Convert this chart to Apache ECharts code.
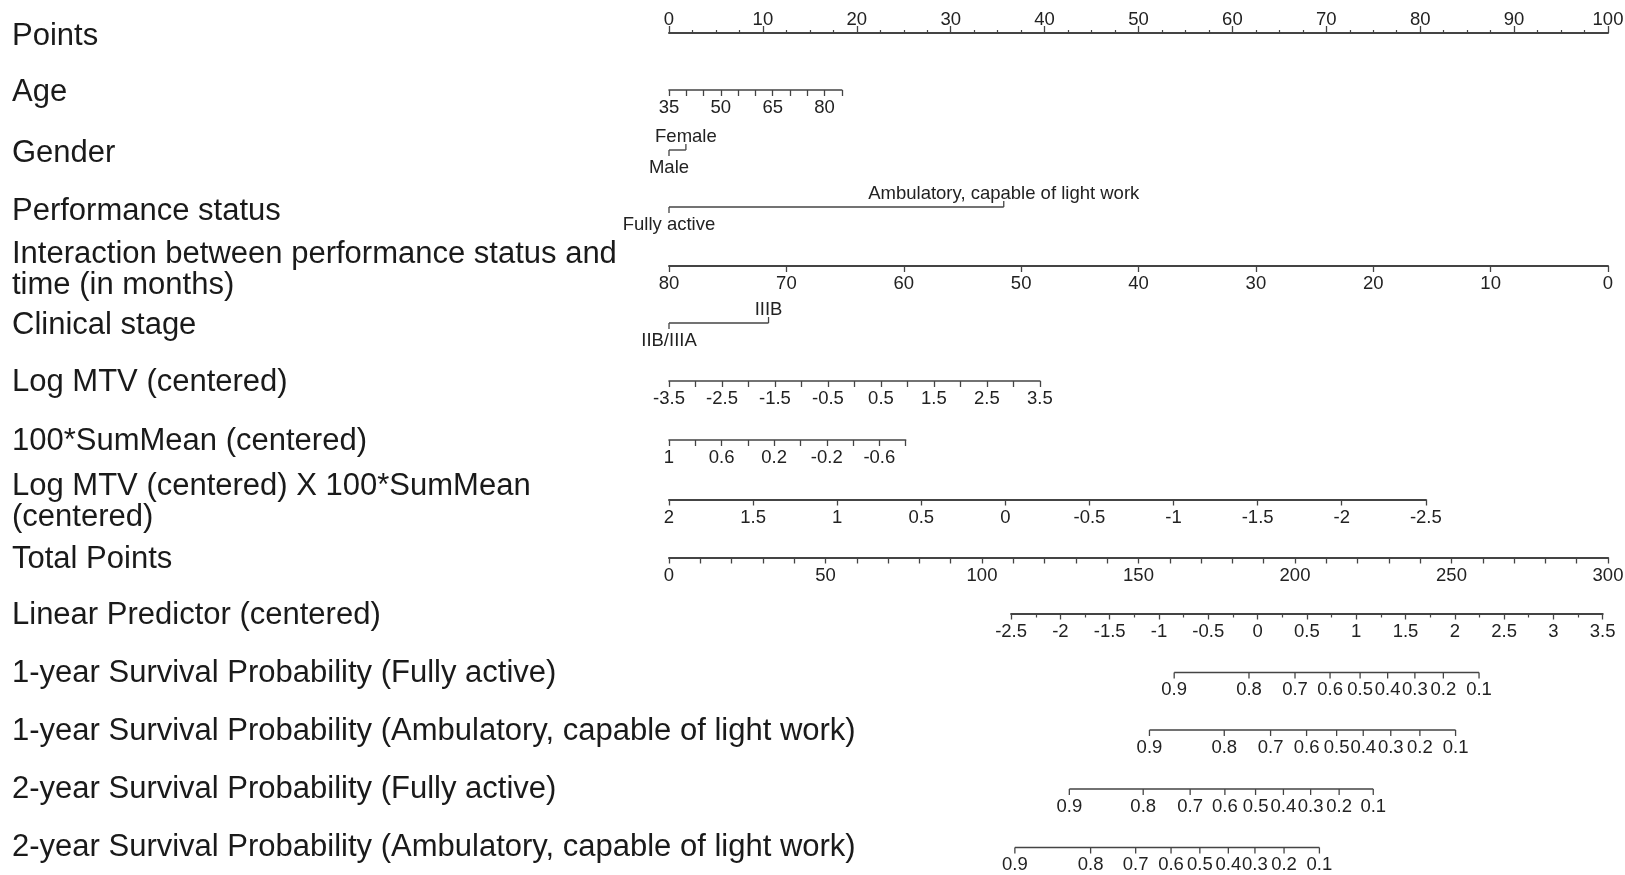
<!DOCTYPE html>
<html>
<head>
<meta charset="utf-8">
<script src="https://cdn.jsdelivr.net/npm/echarts@6/dist/echarts.min.js"></script>
<style>
  html, body { margin: 0; padding: 0; background: #fff; }
  #chart { width: 1625px; height: 875px; }
</style>
</head>
<body>
<div id="chart"></div>
<script>
// ---------------- nomogram data ----------------
const rowTitles = [
  'Points',
  'Age',
  'Gender',
  'Performance status',
  'Interaction between performance status and\ntime (in months)',
  'Clinical stage',
  'Log MTV (centered)',
  '100*SumMean (centered)',
  'Log MTV (centered) X 100*SumMean\n(centered)',
  'Total Points',
  'Linear Predictor (centered)',
  '1-year Survival Probability (Fully active)',
  '1-year Survival Probability (Ambulatory, capable of light work)',
  '2-year Survival Probability (Fully active)',
  '2-year Survival Probability (Ambulatory, capable of light work)'
];

// each predictor: value range (left end, right end) and the points those ends score
const pointsRange  = [0, 100];
const ageRange     = [35, 85];     const agePoints     = [0, 18.4];
const genderLevels = ['Male', 'Female'];                          const genderPoints = [0, 1.8];
const perfLevels   = ['Fully active', 'Ambulatory, capable of light work']; const perfPoints = [0, 35.65];
const psTimeRange  = [80, 0];      const psTimePoints  = [0, 100];
const stageLevels  = ['IIB/IIIA', 'IIIB'];                        const stagePoints  = [0, 10.6];
const logMtvRange  = [-3.5, 3.5];  const logMtvPoints  = [0, 39.5];
const sumMeanRange = [1, -0.8];    const sumMeanPoints = [0, 25.2];
const mtvSumRange  = [2, -2.5];    const mtvSumPoints  = [0, 80.6];
const totalRange   = [0, 300];
const lpRange      = [-2.5, 3.5];  const lpTotal       = [109.3, 298.3];

// survival probability ticks and the total points they sit at
const survLabels  = [0.9, 0.8, 0.7, 0.6, 0.5, 0.4, 0.3, 0.2, 0.1];
const surv1yFully = [161.4, 185.3, 200.0, 211.2, 220.8, 229.6, 238.3, 247.4, 258.8];
const surv1yAmb   = [153.5, 177.4, 192.2, 203.7, 213.3, 221.8, 230.6, 239.9, 251.3];
const surv2yFully = [127.9, 151.5, 166.5, 177.6, 187.4, 196.3, 205.0, 214.1, 225.0];
const surv2yAmb   = [110.5, 134.7, 149.1, 160.4, 169.6, 178.7, 187.2, 196.5, 207.8];

// ---------------- layout ----------------
const X0 = 669, X100 = 1608;                       // pixel extent of the Points scale
const ptX = p => X0 + (X100 - X0) * p / pointsRange[1];
const tpX = t => X0 + (X100 - X0) * t / totalRange[1];
const titleY = [36, 92, 153, 211, 269.5, 325, 382, 441, 501.5, 559.5, 615.5, 673.5, 731.6, 789.6, 847.6];
const lineY  = [33, 90, 150, 207, 266, 323, 381, 440, 499.5, 557.5, 613.5, 672.5, 730, 789, 847.5];

const TEXT = '#222222', LINE = '#444444';
const FAMILY = '"Liberation Sans", Arial, sans-serif';
const LABEL_SIZE = 18.5, TITLE_SIZE = 31;

const grids = [], xAxes = [], yAxes = [], series = [];
const fmt = v => String(Math.round(v * 100) / 100);

function addGrid(left, right, y, atTop) {
  grids.push({ left: left, width: right - left, top: atTop ? y : y - 1, height: 1,
               containLabel: false, outerBoundsMode: 'none' });
  const gi = grids.length - 1;
  yAxes.push({ gridIndex: gi, type: 'value', show: false, min: 0, max: 1 });
  return gi;
}

// a row drawn with a real ECharts value axis
function scaleRow(y, values, pxs, o) {
  const inverse = values[0] > values[1];
  const gi = addGrid(Math.min(pxs[0], pxs[1]), Math.max(pxs[0], pxs[1]), y, !!o.top);
  xAxes.push({
    gridIndex: gi, type: 'value', position: o.top ? 'top' : 'bottom',
    min: Math.min(values[0], values[1]), max: Math.max(values[0], values[1]),
    inverse: inverse, interval: o.interval,
    axisLine: { show: true, onZero: false, lineStyle: { color: LINE, width: o.lineWidth || 1.6 } },
    axisTick: { show: true, length: o.tick || 6, lineStyle: { color: LINE, width: 1.3 } },
    minorTick: o.minor
      ? { show: true, splitNumber: o.minor, length: o.minorLen || 3, lineStyle: { color: LINE, width: 1.2 } }
      : { show: false },
    splitLine: { show: false },
    axisLabel: {
      show: true, margin: o.margin != null ? o.margin : 8.5, color: TEXT,
      fontSize: LABEL_SIZE, fontFamily: FAMILY, showMinLabel: true, showMaxLabel: true,
      formatter: o.formatter || (v => fmt(v))
    }
  });
}

// a row of labelled marks (categories or probabilities) on a hidden linear axis
function markRow(y, domain, xs, labels, dirs) {
  const left = domain[1] === totalRange[1] ? tpX(0) : ptX(0);
  const gi = addGrid(left, X100, y, false);
  xAxes.push({ gridIndex: gi, type: 'value', show: false, min: domain[0], max: domain[1] });
  series.push({
    type: 'line', xAxisIndex: gi, yAxisIndex: gi, clip: false, silent: true,
    symbol: 'none', lineStyle: { color: LINE, width: 1.4 },
    data: xs.map(x => [x, 0])
  });
  series.push({
    type: 'custom', xAxisIndex: gi, yAxisIndex: gi, clip: false, silent: true,
    data: xs.map((x, i) => [x, i]),
    renderItem: function (params, api) {
      const p = api.coord([api.value(0), 0]);
      const i = api.value(1);
      const d = dirs[i];
      return {
        type: 'group',
        children: [
          { type: 'line', shape: { x1: p[0], y1: p[1], x2: p[0], y2: p[1] + d * 6 },
            style: { stroke: LINE, lineWidth: 1.3 } },
          { type: 'text', x: p[0], y: p[1] + (d > 0 ? 17.5 : -13.5),
            style: { text: String(labels[i]), fill: TEXT, align: 'center', verticalAlign: 'middle',
                     font: LABEL_SIZE + 'px ' + FAMILY } }
        ]
      };
    }
  });
}

// Points
scaleRow(lineY[0], pointsRange, [ptX(0), ptX(100)],
  { top: true, interval: 10, minor: 4, minorLen: 3, tick: 7, margin: 4, lineWidth: 2 });
// Age
scaleRow(lineY[1], ageRange, agePoints.map(ptX),
  { interval: 5, formatter: v => ((Math.round(v) - ageRange[0]) % 15 === 0 ? fmt(v) : '') });
// Gender
markRow(lineY[2], pointsRange, genderPoints, genderLevels, [1, -1]);
// Performance status
markRow(lineY[3], pointsRange, perfPoints, perfLevels, [1, -1]);
// Performance status x time
scaleRow(lineY[4], psTimeRange, psTimePoints.map(ptX), { interval: 10, lineWidth: 2 });
// Clinical stage
markRow(lineY[5], pointsRange, stagePoints, stageLevels, [1, -1]);
// Log MTV
scaleRow(lineY[6], logMtvRange, logMtvPoints.map(ptX),
  { interval: 0.5, formatter: v => (Math.round((v - logMtvRange[0]) * 2) % 2 === 0 ? fmt(v) : '') });
// 100*SumMean
scaleRow(lineY[7], sumMeanRange, sumMeanPoints.map(ptX),
  { interval: 0.2, formatter: v => (Math.round((sumMeanRange[0] - v) * 5) % 2 === 0 ? fmt(v) : '') });
// Log MTV x 100*SumMean
scaleRow(lineY[8], mtvSumRange, mtvSumPoints.map(ptX), { interval: 0.5, lineWidth: 2 });
// Total Points
scaleRow(lineY[9], totalRange, [tpX(0), tpX(300)],
  { interval: 10, lineWidth: 2, formatter: v => (Math.round(v) % 50 === 0 ? fmt(v) : '') });
// Linear predictor
scaleRow(lineY[10], lpRange, lpTotal.map(tpX), { interval: 0.5, minor: 2, minorLen: 4, lineWidth: 2 });
// Survival probabilities
const down = survLabels.map(() => 1);
markRow(lineY[11], totalRange, surv1yFully, survLabels, down);
markRow(lineY[12], totalRange, surv1yAmb,   survLabels, down);
markRow(lineY[13], totalRange, surv2yFully, survLabels, down);
markRow(lineY[14], totalRange, surv2yAmb,   survLabels, down);

const chart = echarts.init(document.getElementById('chart'), null, { renderer: 'canvas' });
chart.setOption({
  backgroundColor: '#ffffff',
  animation: false,
  grid: grids,
  xAxis: xAxes,
  yAxis: yAxes,
  series: series,
  graphic: rowTitles.map((t, i) => ({
    type: 'text', x: 12, y: titleY[i], silent: true,
    style: { text: t, fill: '#1a1a1a', font: TITLE_SIZE + 'px ' + FAMILY,
             align: 'left', verticalAlign: 'middle', lineHeight: 31 }
  }))
});
</script>
</body>
</html>
